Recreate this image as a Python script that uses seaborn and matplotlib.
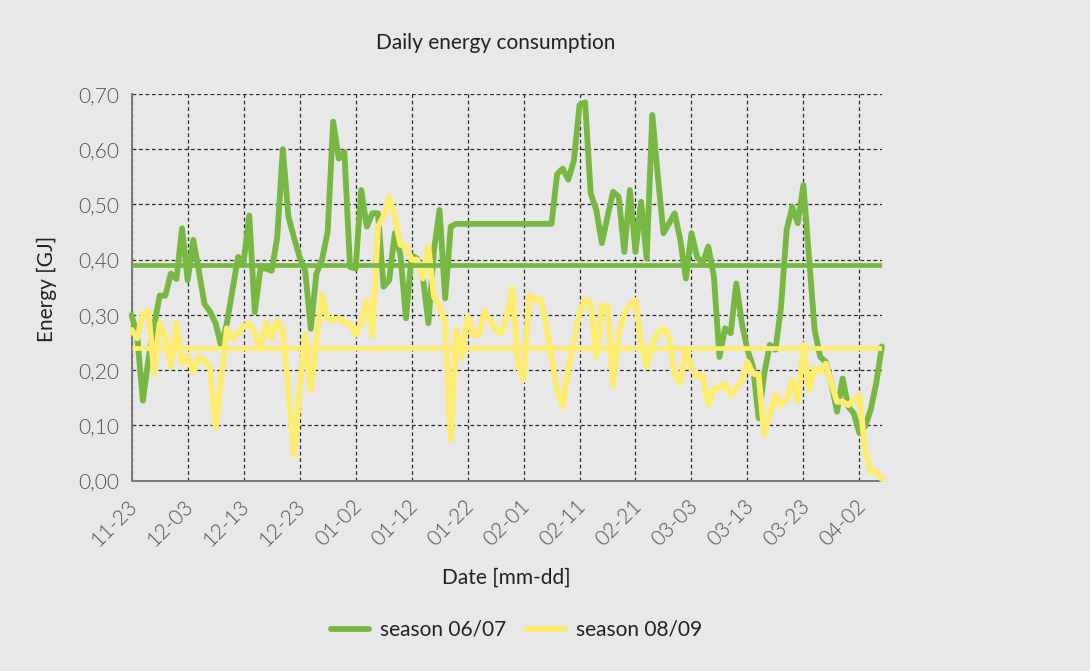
import matplotlib
matplotlib.use("Agg")
import matplotlib.pyplot as plt
import matplotlib.dates as mdates
import matplotlib.transforms as mtransforms
from matplotlib.ticker import FuncFormatter, FixedLocator
from matplotlib.lines import Line2D
import pandas as pd
import seaborn as sns

# ---- data -----------------------------------------------------------------
start_date = "2006-11-23"
end_date = "2007-04-06"

season_0607 = [
    0.300, 0.260, 0.145, 0.220, 0.280, 0.335, 0.335, 0.375, 0.365, 0.457,
    0.363, 0.436, 0.380, 0.320, 0.306, 0.285, 0.243, 0.285, 0.345, 0.405,
    0.396, 0.480, 0.305, 0.384, 0.384, 0.380, 0.440, 0.600, 0.478, 0.440,
    0.405, 0.380, 0.275, 0.375, 0.400, 0.450, 0.650, 0.583, 0.595, 0.387,
    0.384, 0.526, 0.460, 0.484, 0.484, 0.351, 0.363, 0.448, 0.410, 0.294,
    0.408, 0.402, 0.370, 0.285, 0.417, 0.490, 0.330, 0.460, 0.465, 0.465,
    0.465, 0.465, 0.465, 0.465, 0.465, 0.465, 0.465, 0.465, 0.465, 0.465,
    0.465, 0.465, 0.465, 0.465, 0.465, 0.465, 0.555, 0.565, 0.545, 0.580,
    0.680, 0.685, 0.520, 0.490, 0.430, 0.478, 0.523, 0.514, 0.414, 0.526,
    0.414, 0.505, 0.402, 0.662, 0.550, 0.448, 0.466, 0.484, 0.436, 0.366,
    0.448, 0.405, 0.393, 0.424, 0.370, 0.224, 0.276, 0.267, 0.357, 0.285,
    0.237, 0.206, 0.113, 0.194, 0.246, 0.237, 0.315, 0.454, 0.496, 0.466,
    0.535, 0.405, 0.273, 0.224, 0.215, 0.176, 0.125, 0.185, 0.134, 0.122,
    0.086, 0.098, 0.128, 0.176, 0.243,
]

season_0809 = [
    0.273, 0.258, 0.303, 0.306, 0.194, 0.285, 0.260, 0.206, 0.285, 0.212,
    0.224, 0.197, 0.224, 0.218, 0.203, 0.095, 0.182, 0.276, 0.258, 0.267,
    0.279, 0.285, 0.267, 0.237, 0.285, 0.258, 0.290, 0.273, 0.164, 0.046,
    0.164, 0.264, 0.164, 0.255, 0.336, 0.294, 0.291, 0.294, 0.285, 0.285,
    0.264, 0.285, 0.327, 0.261, 0.460, 0.478, 0.514, 0.478, 0.427, 0.424,
    0.400, 0.400, 0.366, 0.424, 0.333, 0.315, 0.285, 0.074, 0.273, 0.224,
    0.297, 0.264, 0.264, 0.306, 0.291, 0.273, 0.267, 0.297, 0.348, 0.212,
    0.182, 0.336, 0.327, 0.330, 0.285, 0.224, 0.164, 0.134, 0.206, 0.252,
    0.305, 0.327, 0.321, 0.224, 0.318, 0.315, 0.173, 0.267, 0.303, 0.318,
    0.327, 0.249, 0.206, 0.249, 0.267, 0.276, 0.261, 0.194, 0.176, 0.237,
    0.206, 0.188, 0.191, 0.137, 0.167, 0.167, 0.176, 0.155, 0.167, 0.182,
    0.215, 0.194, 0.191, 0.083, 0.122, 0.155, 0.137, 0.146, 0.182, 0.143,
    0.246, 0.164, 0.203, 0.197, 0.212, 0.176, 0.143, 0.143, 0.137, 0.146,
    0.155, 0.056, 0.016, 0.016, 0.003,
]

season_means = [0.39, 0.24]
series_names = ["season 06/07", "season 08/09"]
series_colors = ["#77b843", "#feec6e"]

title_text = "Daily energy consumption"
x_label = "Date [mm-dd]"
y_label = "Energy [GJ]"
y_ticks = [0.0, 0.1, 0.2, 0.3, 0.4, 0.5, 0.6, 0.7]

# ---- frame ----------------------------------------------------------------
dates = pd.date_range(start_date, end_date, freq="D")
df = pd.DataFrame({
    "date": list(dates) * 2,
    "energy": season_0607 + season_0809,
    "season": [series_names[0]] * len(dates) + [series_names[1]] * len(dates),
})

BG = "#e8e8e8"
sns.set_style("white", {"axes.facecolor": BG, "figure.facecolor": BG})
plt.rcParams["font.family"] = ["Lato", "DejaVu Sans"]

fig = plt.figure(figsize=(10.9, 6.71), dpi=100)
ax = fig.add_axes([0.1208, 0.2836, 0.6882, 0.5763])
ax.set_facecolor(BG)

sns.lineplot(data=df, x="date", y="energy", hue="season",
             palette=dict(zip(series_names, series_colors)),
             linewidth=4.2, legend=False, ax=ax, zorder=3)
for ln in ax.get_lines():
    ln.set_solid_joinstyle("round")
    ln.set_solid_capstyle("round")
    ln.set_clip_on(False)

for mean, color in zip(season_means, series_colors):
    ax.axhline(mean, color=color, linewidth=3.4, zorder=4,
               solid_capstyle="butt")

# ---- axes -----------------------------------------------------------------
ax.set_xlim(dates[0], dates[-1])
ax.set_ylim(0, 0.70)
ax.set_yticks(y_ticks)
ax.yaxis.set_major_formatter(
    FuncFormatter(lambda v, _: f"{v:.2f}".replace(".", ",")))
tick_dates = pd.date_range(start_date, end_date, freq="10D")
ax.xaxis.set_major_locator(FixedLocator(mdates.date2num(tick_dates)))
ax.xaxis.set_major_formatter(mdates.DateFormatter("%m-%d"))

grid_kw = dict(color="#2a2a2a", linewidth=0.9, linestyle=(0, (3.0, 2.2)))
ax.grid(True, which="major", axis="both", **grid_kw)
ax.set_axisbelow(True)

for side in ("top", "right"):
    ax.spines[side].set_visible(False)
for side in ("left", "bottom"):
    ax.spines[side].set_color("#7a7a7a")
    ax.spines[side].set_linewidth(1.4)
    ax.spines[side].set_zorder(2)

ax.tick_params(axis="y", direction="out", length=6, width=1.0, color="#555555",
               labelsize=15, labelcolor="#505050", pad=3)
ax.tick_params(axis="x", direction="inout", length=10, width=1.0, color="#555555",
               labelsize=15, labelcolor="#505050", pad=6)
for lbl in ax.get_yticklabels():
    lbl.set_fontweight(300)
shift = mtransforms.ScaledTranslation(0.10, 0, fig.dpi_scale_trans)
for lbl in ax.get_xticklabels():
    lbl.set_fontweight(300)
    lbl.set_rotation(45)
    lbl.set_ha("right")
    lbl.set_va("top")
    lbl.set_transform(lbl.get_transform() + shift)

ax.set_xlabel("")
ax.set_ylabel("")

# ---- text -----------------------------------------------------------------
fig.text(496 / 1090, 1 - 43 / 671, title_text, ha="center", va="center",
         fontsize=15, color="#222222")
fig.text(506 / 1090, 1 - 578 / 671, x_label, ha="center", va="center",
         fontsize=15, color="#222222")
fig.text(47 / 1090, 1 - 289 / 671, y_label, ha="center", va="center",
         rotation=90, fontsize=15, color="#222222")

handles = [Line2D([], [], color=c, linewidth=4.2) for c in series_colors]
leg = fig.legend(handles, series_names, loc="center",
                 bbox_to_anchor=(517 / 1090, 1 - 630 / 671), ncol=2,
                 frameon=False, fontsize=15, handlelength=1.8,
                 handletextpad=0.55, columnspacing=1.0)
for t in leg.get_texts():
    t.set_color("#222222")

fig.savefig("out.png", dpi=100, facecolor=BG)
